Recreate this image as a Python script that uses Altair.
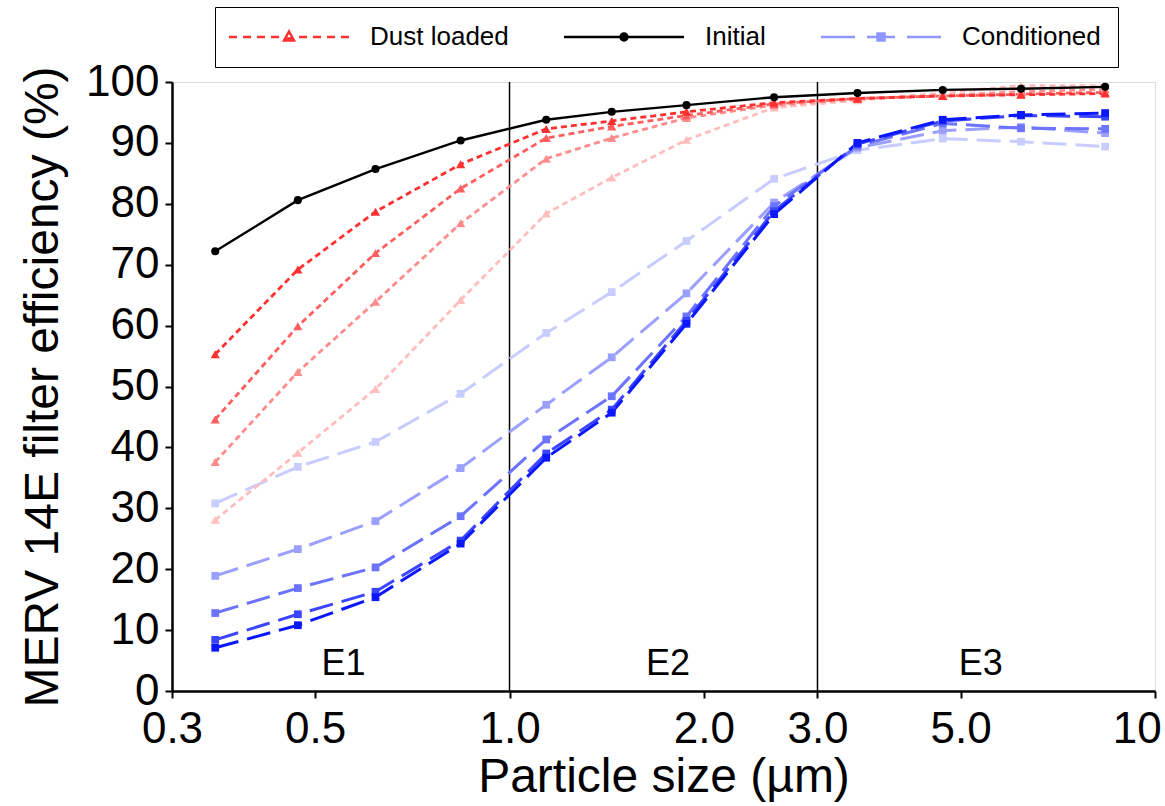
import altair as alt
import pandas as pd

# ---------------- data ----------------
sizes = [0.35, 0.47, 0.62, 0.84, 1.14, 1.44, 1.88, 2.57, 3.46, 4.69, 6.20, 8.37]

initial = [72.2, 80.6, 85.7, 90.4, 93.8, 95.1, 96.2, 97.5, 98.2, 98.7, 98.9, 99.2]

dust_1 = [55.3, 69.2, 78.7, 86.5, 92.3, 93.6, 95.1, 96.6, 97.3, 97.7, 97.9, 98.1]
dust_2 = [44.6, 59.9, 71.9, 82.5, 90.8, 92.7, 94.5, 96.4, 97.3, 97.7, 98.0, 98.3]
dust_3 = [37.6, 52.4, 63.9, 76.8, 87.4, 90.8, 94.1, 96.2, 97.2, 97.8, 98.4, 98.8]
dust_4 = [28.1, 39.1, 49.6, 64.2, 78.4, 84.3, 90.5, 95.8, 97.0, 98.2, 99.4, 99.4]

cond_1 = [30.8, 36.8, 40.9, 48.8, 58.8, 65.5, 73.9, 84.1, 88.8, 90.7, 90.2, 89.4]
cond_2 = [18.9, 23.3, 27.9, 36.6, 47.0, 54.8, 65.3, 80.2, 89.2, 92.0, 92.6, 91.6]
cond_3 = [12.8, 16.9, 20.3, 28.7, 41.3, 48.4, 61.5, 79.6, 89.5, 93.2, 92.4, 92.3]
cond_4 = [8.4, 12.6, 16.3, 24.7, 39.0, 46.2, 60.8, 78.8, 89.8, 93.6, 94.5, 94.3]
cond_5 = [7.1, 10.8, 15.4, 24.2, 38.3, 45.7, 60.3, 78.3, 90.0, 93.8, 94.6, 94.9]

zone_bounds = [1.0, 3.0]
zone_labels = ["E1", "E2", "E3"]
zone_label_x = [0.553, 1.76, 5.37]
zone_label_y = [4.4, 4.4, 4.4]

legend_groups = ["Dust loaded", "Initial", "Conditioned"]

x_ticks = [0.3, 0.5, 1.0, 2.0, 3.0, 5.0, 10.0]
y_ticks = [0, 10, 20, 30, 40, 50, 60, 70, 80, 90, 100]

# ---------------- styles ----------------
FONT = "Liberation Sans"
cond_series = ["C1", "C2", "C3", "C4", "C5"]
cond_colors = ["#c9ccff", "#9ba0ff", "#6c73ff", "#3b45ff", "#0b18ff"]
dust_series = ["D4", "D3", "D2", "D1"]
dust_colors = ["#ffbdbd", "#ff8c8c", "#ff5e5e", "#ff3030"]
all_series = cond_series + dust_series + ["Init"]
all_colors = cond_colors + dust_colors + ["#000000"]

rows = []
for name, vals in [("C1", cond_1), ("C2", cond_2), ("C3", cond_3), ("C4", cond_4), ("C5", cond_5),
                   ("D4", dust_4), ("D3", dust_3), ("D2", dust_2), ("D1", dust_1),
                   ("Init", initial)]:
    for s, v in zip(sizes, vals):
        rows.append({"size": s, "eff": v, "series": name, "order": all_series.index(name)})
df = pd.DataFrame(rows)

xscale = alt.Scale(type="log", domain=[0.3, 10], nice=False)
yscale = alt.Scale(domain=[0, 100], nice=False)
cscale = alt.Scale(domain=all_series, range=all_colors)

xaxis = alt.Axis(values=x_ticks, format=".1f", title="Particle size (µm)", grid=False,
                 labelFontSize=44, titleFontSize=48, labelPadding=9, titlePadding=2,
                 tickSize=7, tickWidth=2, domainWidth=2.5, domainColor="black",
                 tickColor="black", labelColor="black", titleColor="black",
                 labelFont=FONT, titleFont=FONT, titleFontWeight="normal", labelFlush=False)
yaxis = alt.Axis(values=y_ticks, title="MERV 14E filter efficiency (%)", grid=False,
                 labelFontSize=44, titleFontSize=48, labelPadding=6, titlePadding=18,
                 tickSize=7, tickWidth=2, domainWidth=2.5, domainColor="black",
                 tickColor="black", labelColor="black", titleColor="black",
                 labelFont=FONT, titleFont=FONT, titleFontWeight="normal")

base = alt.Chart(df).encode(
    x=alt.X("size:Q", scale=xscale, axis=xaxis),
    y=alt.Y("eff:Q", scale=yscale, axis=yaxis),
    color=alt.Color("series:N", scale=cscale, legend=None),
    order=alt.Order("order:Q"),
)

is_cond = alt.FieldOneOfPredicate(field="series", oneOf=cond_series)
is_dust = alt.FieldOneOfPredicate(field="series", oneOf=dust_series)
is_init = alt.FieldEqualPredicate(field="series", equal="Init")

cond_lines = base.transform_filter(is_cond).mark_line(strokeDash=[24, 9], strokeWidth=3)
cond_pts = base.transform_filter(is_cond).mark_point(shape="square", filled=True, size=60, opacity=1)
dust_lines = base.transform_filter(is_dust).mark_line(strokeDash=[6, 4], strokeWidth=2.8)
dust_pts = base.transform_filter(is_dust).mark_point(shape="triangle-up", filled=True, size=85, opacity=1)
init_line = base.transform_filter(is_init).mark_line(strokeWidth=2.4)
init_pts = base.transform_filter(is_init).mark_point(shape="circle", filled=True, size=65, opacity=1)

rules = alt.Chart(pd.DataFrame({"b": zone_bounds})).mark_rule(color="black", strokeWidth=1.5).encode(
    x=alt.X("b:Q", scale=xscale)
)

zones = alt.Chart(pd.DataFrame({"x": zone_label_x, "y": zone_label_y, "t": zone_labels})).mark_text(
    font=FONT, fontSize=36, color="black", baseline="middle", align="center"
).encode(x=alt.X("x:Q", scale=xscale), y=alt.Y("y:Q", scale=yscale), text="t:N")


# legend symbols: a line with a marker, drawn as custom shapes.
# symbol size 64 -> 4 px per path unit; the path extends to the right of the symbol centre.
def u(px):
    return f"{px / 4:.3f}"


def seg(a, b):
    return f"M{u(a)},0H{u(b)}"


L0 = -16           # left end of the legend line, px from symbol centre
mid = L0 + 60      # marker position
p_dust = "".join(seg(L0 + a, L0 + a + 8) for a in [0, 14, 28, 42, 70, 84, 98, 112])
p_dust += f"M{u(mid)},{u(-5.5)}L{u(mid + 5)},{u(3.5)}L{u(mid - 5)},{u(3.5)}Z"
p_dust += f"M{u(mid - 2.5)},{u(1.5)}H{u(mid + 2.5)}"
p_init = seg(L0, L0 + 120)
p_init += (f"M{u(mid + 3.5)},0A{u(3.5)},{u(3.5)},0,1,1,{u(mid - 3.5)},0"
           f"A{u(3.5)},{u(3.5)},0,1,1,{u(mid + 3.5)},0Z")
p_init += (f"M{u(mid + 1.2)},0A{u(1.2)},{u(1.2)},0,1,1,{u(mid - 1.2)},0"
           f"A{u(1.2)},{u(1.2)},0,1,1,{u(mid + 1.2)},0Z")
p_cond = seg(L0, L0 + 34) + seg(L0 + 46, L0 + 74) + seg(L0 + 86, L0 + 120)
p_cond += f"M{u(mid - 3.5)},{u(-3.5)}H{u(mid + 3.5)}V{u(3.5)}H{u(mid - 3.5)}Z"
p_cond += f"M{u(mid - 3.5)},{u(-1.3)}H{u(mid + 3.5)}M{u(mid - 3.5)},{u(1.3)}H{u(mid + 3.5)}"

leg_df = pd.DataFrame({"group": legend_groups,
                       "size": [sizes[0], sizes[0], sizes[0]],
                       "eff": [dust_1[0], initial[0], cond_5[0]]})
leg = alt.Legend(title=None, orient="none", legendX=43, legendY=-75, direction="horizontal",
                 columns=3, labelFontSize=26, labelFont=FONT, labelColor="black",
                 symbolSize=64, symbolStrokeWidth=2.5, symbolOpacity=1,
                 strokeColor="black", fillColor="white", padding=17,
                 columnPadding=50, labelOffset=112, labelLimit=400)
legend_layer = alt.Chart(leg_df).mark_point(filled=False, opacity=0, strokeWidth=2.5, size=64).encode(
    x=alt.X("size:Q", scale=xscale),
    y=alt.Y("eff:Q", scale=yscale),
    stroke=alt.Stroke("group:N", scale=alt.Scale(domain=legend_groups,
                                                 range=["#ff3030", "#000000", "#9096ff"]),
                      legend=leg),
    shape=alt.Shape("group:N", scale=alt.Scale(domain=legend_groups, range=[p_dust, p_init, p_cond]),
                    legend=leg),
)

chart = alt.layer(
    rules, cond_lines, cond_pts, dust_lines, dust_pts, init_line, init_pts, zones, legend_layer
).properties(
    width=983, height=609,
    autosize=alt.AutoSizeParams(type="none"),
    padding={"left": 172, "top": 82, "right": 10, "bottom": 115},
).configure_view(
    stroke="black", strokeWidth=1.5
).configure(
    background="white"
)

chart.save("out.html", embed_options={"renderer": "svg", "actions": False})
